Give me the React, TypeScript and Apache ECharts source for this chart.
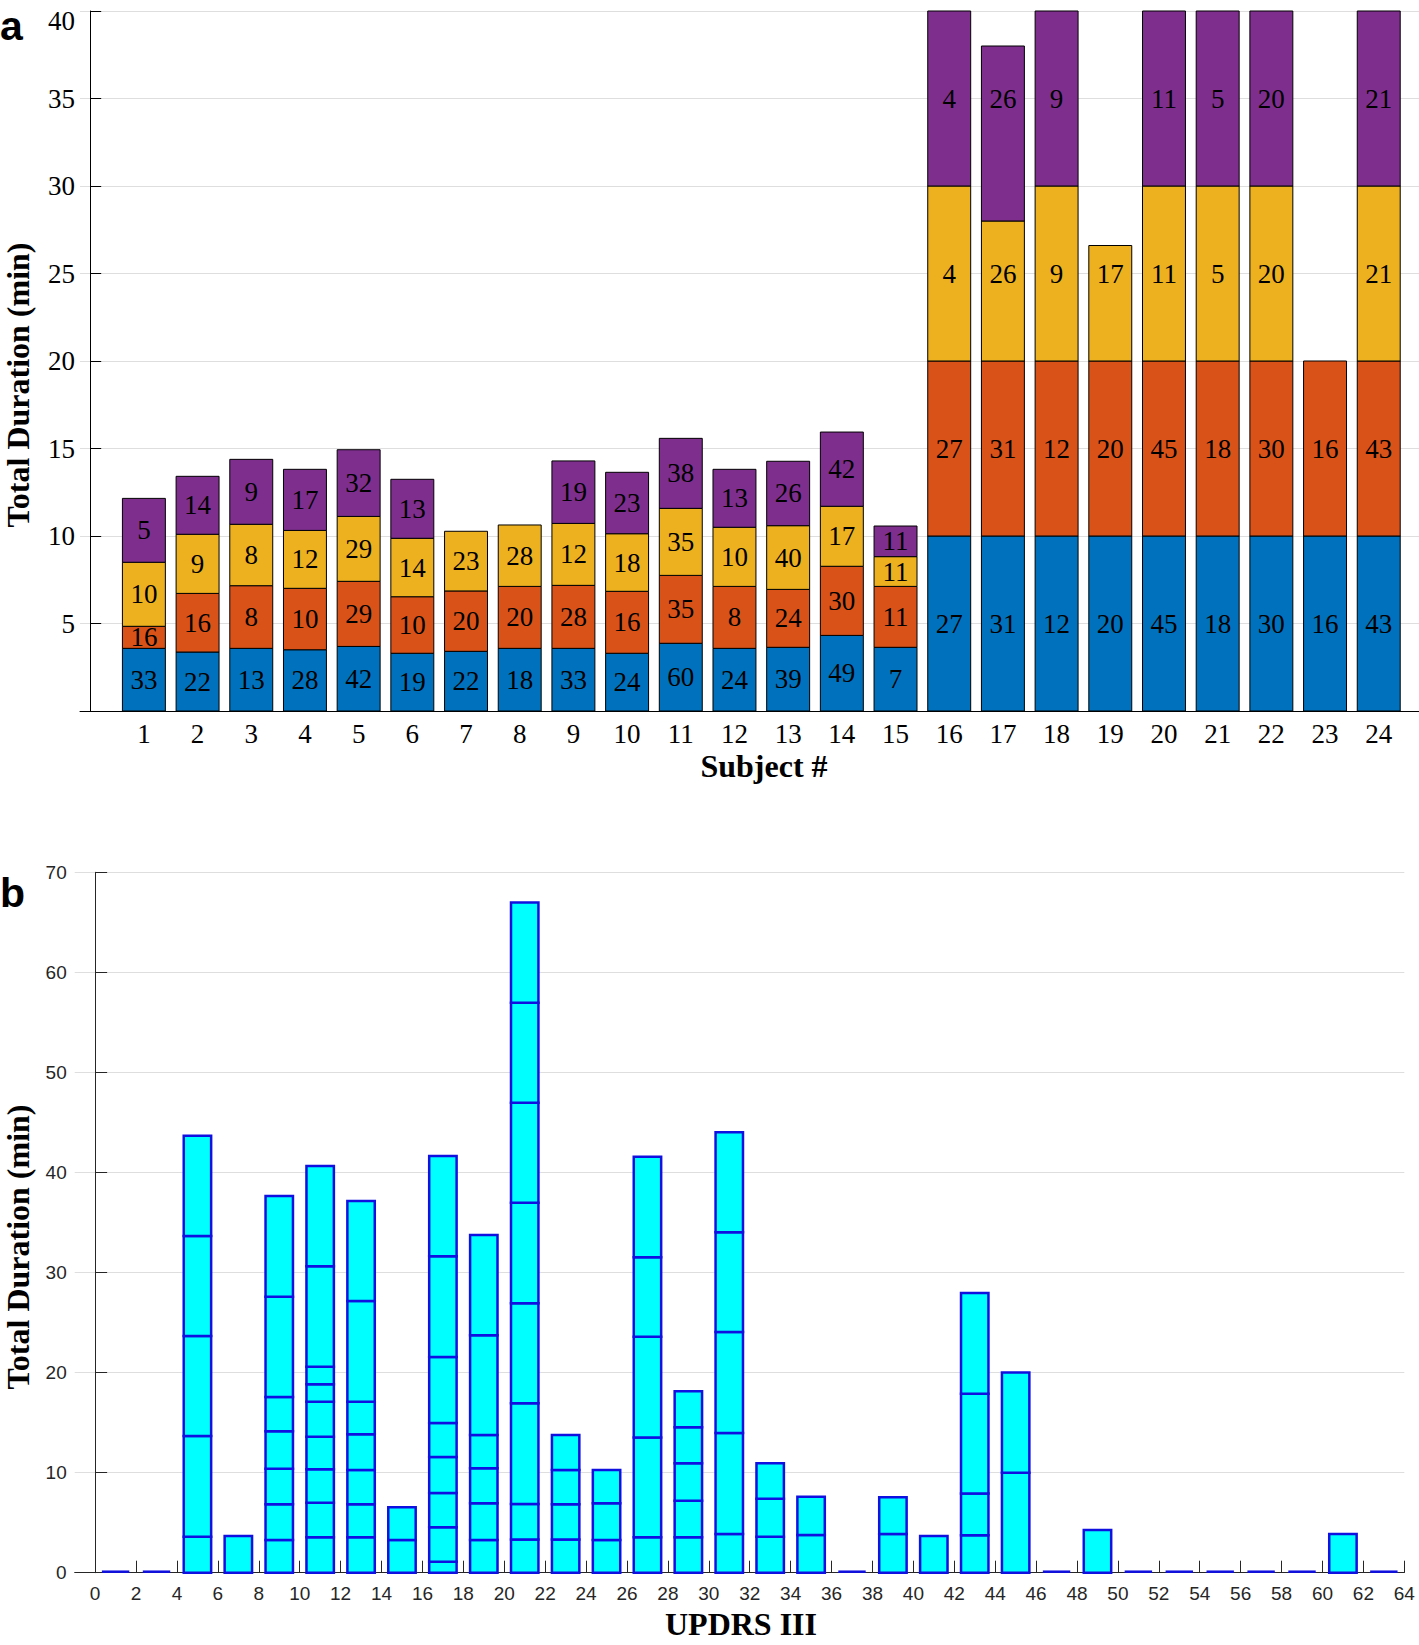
import React, { useEffect, useRef } from "react";
import * as echarts from "echarts";

// ---------- Panel a: durations (min) per subject and task block ----------
const subjects = [1, 2, 3, 4, 5, 6, 7, 8, 9, 10, 11, 12, 13, 14, 15, 16, 17, 18, 19, 20, 21, 22, 23, 24];

const blueMin = [3.58, 3.37, 3.58, 3.5, 3.69, 3.3, 3.41, 3.58, 3.58, 3.3, 3.87, 3.58, 3.64, 4.32, 3.64, 10, 10, 10, 10, 10, 10, 10, 10, 10];
const orangeMin = [1.26, 3.35, 3.58, 3.51, 3.72, 3.23, 3.45, 3.54, 3.6, 3.54, 3.88, 3.54, 3.31, 3.95, 3.48, 10, 10, 10, 10, 10, 10, 10, 10, 10];
const yellowMin = [3.66, 3.38, 3.51, 3.31, 3.71, 3.34, 3.41, 3.51, 3.54, 3.29, 3.83, 3.38, 3.64, 3.43, 1.7, 10, 8, 10, 6.6, 10, 10, 10, null, 10];
const purpleMin = [3.65, 3.31, 3.71, 3.49, 3.81, 3.37, null, null, 3.57, 3.51, 4.0, 3.31, 3.68, 4.24, 1.75, 10, 10, 10, null, 10, 10, 10, null, 10];

const blueLbl = [33, 22, 13, 28, 42, 19, 22, 18, 33, 24, 60, 24, 39, 49, 7, 27, 31, 12, 20, 45, 18, 30, 16, 43];
const orangeLbl = [16, 16, 8, 10, 29, 10, 20, 20, 28, 16, 35, 8, 24, 30, 11, 27, 31, 12, 20, 45, 18, 30, 16, 43];
const yellowLbl = [10, 9, 8, 12, 29, 14, 23, 28, 12, 18, 35, 10, 40, 17, 11, 4, 26, 9, 17, 11, 5, 20, null, 21];
const purpleLbl = [5, 14, 9, 17, 32, 13, null, null, 19, 23, 38, 13, 26, 42, 11, 4, 26, 9, null, 11, 5, 20, null, 21];

// nominal block length (min) of the long protocol (subjects 16-24)
const nominalBlock = 10;

// ---------- Panel b: stacked durations (min) per UPDRS III bin ----------
const updrsBins = [1, 3, 5, 7, 9, 11, 13, 15, 17, 19, 21, 23, 25, 27, 29, 31, 33, 35, 37, 39, 41, 43, 45, 47, 49, 51, 53, 55, 57, 59, 61, 63];
const updrsSegments: number[][] = [
  [],
  [],
  [3.6, 10.06, 10.0, 10.0, 10.02],
  [3.67],
  [3.27, 3.56, 3.56, 3.74, 3.43, 10.02, 10.07],
  [3.54, 3.46, 3.33, 3.26, 3.5, 1.74, 1.76, 10.03, 10.03],
  [3.54, 3.29, 3.43, 3.57, 3.26, 10.06, 10.0],
  [3.27, 3.26],
  [1.1, 3.43, 3.44, 3.59, 3.4, 6.6, 10.06, 10.03],
  [3.27, 3.66, 3.5, 3.33, 9.96, 10.03],
  [3.33, 3.54, 10.06, 9.99, 10.06, 9.99, 10.0, 10.02],
  [3.33, 3.5, 3.43, 3.5],
  [3.27, 3.66, 3.33],
  [3.54, 9.96, 10.09, 7.93, 10.06],
  [3.54, 3.66, 3.73, 3.6, 3.6],
  [3.87, 10.09, 10.1, 9.96, 9.99],
  [3.6, 3.8, 3.53],
  [3.77, 3.83],
  [],
  [3.87, 3.66],
  [3.67],
  [3.75, 4.16, 9.98, 10.07],
  [10.0, 10.0],
  [],
  [4.27],
  [],
  [],
  [],
  [],
  [],
  [3.86],
  [],
];
const updrsTicks = [0, 2, 4, 6, 8, 10, 12, 14, 16, 18, 20, 22, 24, 26, 28, 30, 32, 34, 36, 38, 40, 42, 44, 46, 48, 50, 52, 54, 56, 58, 60, 62, 64];

const phaseColors = ["#0072BD", "#D95319", "#EDB120", "#7E2F8E"];

export default function App() {
  const ref = useRef<HTMLDivElement>(null);

  useEffect(() => {
    if (!ref.current) return;
    const chart = echarts.init(ref.current, null, { renderer: "svg" });

    // panel a rows: [x, y0, y1, label, phase, labelY]
    const minutes = [blueMin, orangeMin, yellowMin, purpleMin];
    const labels = [blueLbl, orangeLbl, yellowLbl, purpleLbl];
    const rowsA: number[][] = [];
    subjects.forEach((s, i) => {
      let base = 0;
      const longProtocol = (blueMin[i] as number) >= nominalBlock;
      for (let k = 0; k < 4; k++) {
        const v = minutes[k][i];
        if (v == null) continue;
        const labelY = longProtocol ? nominalBlock * k + nominalBlock / 2 : base + v / 2;
        rowsA.push([s, base, base + v, labels[k][i] as number, k, labelY]);
        base += v;
      }
    });

    // panel b rows: [x, y0, y1]
    const rowsB: number[][] = [];
    updrsBins.forEach((b, i) => {
      const segs = updrsSegments[i];
      if (segs.length === 0) {
        rowsB.push([b, 0, 0]);
        return;
      }
      let base = 0;
      segs.forEach((v) => {
        rowsB.push([b, base, base + v]);
        base += v;
      });
    });

    const serif = '"Liberation Serif", "Times New Roman", serif';
    const sans = '"Liberation Sans", Arial, Helvetica, sans-serif';
    const gridColor = "#dedede";

    const titleStyle = (text: string) => ({
      text,
      font: 'bold 32px "Liberation Serif", "Times New Roman", serif',
      fontFamily: serif,
      fontSize: 32,
      fontWeight: "bold",
      fill: "#000",
      align: "center",
      verticalAlign: "middle",
      textAlign: "center",
      textVerticalAlign: "middle",
    });

    const panelStyle = (text: string) => ({
      text,
      font: 'bold 41px "Liberation Sans", Arial, sans-serif',
      fontFamily: sans,
      fontSize: 41,
      fontWeight: "bold",
      fill: "#000",
      align: "left",
      verticalAlign: "middle",
      textAlign: "left",
      textVerticalAlign: "middle",
    });

    const option: any = {
      animation: false,
      backgroundColor: "#ffffff",
      grid: [
        { left: 80, right: 0, top: 11, height: 700, containLabel: false, outerBoundsMode: "none" },
        { left: 74.7, right: 14.7, top: 872.3, height: 700.4, containLabel: false, outerBoundsMode: "none" },
      ],
      xAxis: [
        {
          gridIndex: 0,
          type: "value",
          min: -0.19,
          max: 24.75,
          axisLine: { show: true, onZero: false, lineStyle: { color: "#000", width: 1 } },
          axisTick: { show: false },
          splitLine: { show: false },
          axisLabel: {
            customValues: subjects,
            fontFamily: serif,
            fontSize: 27,
            color: "#000",
            margin: 9,
          },
        },
        {
          gridIndex: 1,
          type: "value",
          min: -1,
          max: 64,
          axisLine: { show: true, onZero: false, lineStyle: { color: "#262626", width: 1 } },
          axisTick: { show: true, inside: true, length: 12, customValues: updrsTicks, lineStyle: { color: "#262626" } },
          splitLine: { show: false },
          axisLabel: {
            customValues: updrsTicks,
            fontFamily: sans,
            fontSize: 19,
            color: "#262626",
            margin: 11,
          },
        },
      ],
      yAxis: [
        {
          gridIndex: 0,
          type: "value",
          min: 0,
          max: 40,
          interval: 5,
          axisLine: { show: true, lineStyle: { color: "#000", width: 1 } },
          axisTick: { show: true, inside: true, length: 11, lineStyle: { color: "#000" } },
          splitLine: { show: true, lineStyle: { color: gridColor, width: 1 } },
          axisLabel: {
            showMinLabel: false,
            fontFamily: serif,
            fontSize: 27,
            lineHeight: 20,
            color: "#000",
            margin: 5,
            verticalAlignMaxLabel: "top",
          },
        },
        {
          gridIndex: 1,
          type: "value",
          min: 0,
          max: 70,
          interval: 10,
          axisLine: { show: true, lineStyle: { color: "#262626", width: 1 } },
          axisTick: { show: true, inside: true, length: 12, lineStyle: { color: "#262626" } },
          splitLine: { show: true, lineStyle: { color: gridColor, width: 1 } },
          axisLabel: {
            fontFamily: sans,
            fontSize: 19,
            color: "#262626",
            margin: 8,
          },
        },
      ],
      series: [
        {
          type: "custom",
          name: "durationBySubject",
          xAxisIndex: 0,
          yAxisIndex: 0,
          clip: false,
          encode: { x: 0, y: [1, 2] },
          data: rowsA,
          renderItem: (params: any, api: any) => {
            const x = api.value(0);
            const y0 = api.value(1);
            const y1 = api.value(2);
            const lbl = api.value(3);
            const k = api.value(4);
            const ly = api.value(5);
            const pTL = api.coord([x - 0.4, y1]);
            const pBR = api.coord([x + 0.4, y0]);
            const c = api.coord([x, ly]);
            return {
              type: "group",
              children: [
                {
                  type: "rect",
                  shape: { x: pTL[0], y: pTL[1], width: pBR[0] - pTL[0], height: pBR[1] - pTL[1] },
                  style: { fill: phaseColors[k], stroke: "#000", lineWidth: 1 },
                  z2: 1,
                },
                {
                  type: "text",
                  x: c[0],
                  y: c[1],
                  z2: 10,
                  style: {
                    text: String(lbl),
                    font: '27px "Liberation Serif", "Times New Roman", serif',
                    fontFamily: serif,
                    fontSize: 27,
                    fill: "#000",
                    align: "center",
                    verticalAlign: "middle",
                    textAlign: "center",
                    textVerticalAlign: "middle",
                  },
                },
              ],
            };
          },
        },
        {
          type: "custom",
          name: "durationByUPDRS",
          xAxisIndex: 1,
          yAxisIndex: 1,
          clip: false,
          encode: { x: 0, y: [1, 2] },
          data: rowsB,
          renderItem: (params: any, api: any) => {
            const x = api.value(0);
            const y0 = api.value(1);
            const y1 = api.value(2);
            const pTL = api.coord([x - 0.67, y1]);
            const pBR = api.coord([x + 0.67, y0]);
            if (y1 - y0 === 0) {
              return {
                type: "line",
                shape: { x1: pTL[0], y1: pBR[1] - 1, x2: pBR[0], y2: pBR[1] - 1 },
                style: { stroke: "#1010e0", lineWidth: 2.5 },
              };
            }
            return {
              type: "rect",
              shape: { x: pTL[0], y: pTL[1], width: pBR[0] - pTL[0], height: pBR[1] - pTL[1] },
              style: { fill: "#00ffff", stroke: "#1010e0", lineWidth: 2.5 },
            };
          },
        },
      ],
      graphic: [
        { type: "text", x: 0, y: 26, style: panelStyle("a") },
        { type: "text", x: 0, y: 893, style: panelStyle("b") },
        { type: "text", x: 18, y: 385, rotation: Math.PI / 2, style: titleStyle("Total Duration (min)") },
        { type: "text", x: 18, y: 1247, rotation: Math.PI / 2, style: titleStyle("Total Duration (min)") },
        { type: "text", x: 764, y: 766, style: titleStyle("Subject #") },
        { type: "text", x: 741, y: 1624, style: titleStyle("UPDRS III") },
      ],
    };

    chart.setOption(option);
    return () => {
      chart.dispose();
    };
  }, []);

  return (
    <div
      ref={ref}
      style={{ position: "absolute", left: 0, top: 0, width: 1419, height: 1645, background: "#fff" }}
    />
  );
}
